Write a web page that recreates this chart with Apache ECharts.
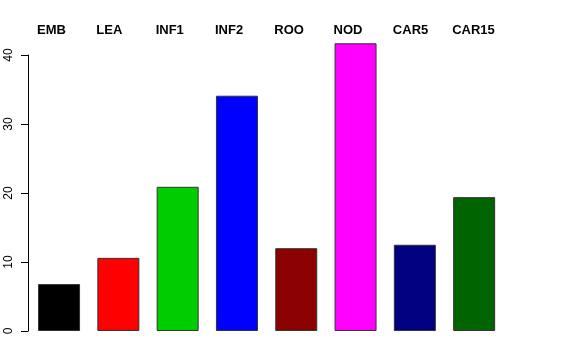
<!DOCTYPE html>
<html><head><meta charset="utf-8">
<script src="https://cdn.jsdelivr.net/npm/echarts@6/dist/echarts.min.js"></script>
<style>html,body{margin:0;padding:0;background:#fff}#c{width:576px;height:360px}</style>
</head><body><div id="c"></div>
<script>
const categories = ['EMB','LEA','INF1','INF2','ROO','NOD','CAR5','CAR15'];
const values = [6.8, 10.6, 20.9, 34.1, 12.0, 41.7, 12.5, 19.4];
const colors = ['#000000','#FF0000','#00CD00','#0000FF','#8B0000','#FF00FF','#000080','#006400'];
const yTicks = [0, 10, 20, 30, 40];

const gridLeft = 29.4, gridWidth = 474.4, barW = 42;
const chart = echarts.init(document.getElementById('c'), null, {renderer:'canvas'});
chart.setOption({
  animation:false,
  backgroundColor:'#fff',
  grid:[
    {left:gridLeft, width:gridWidth, top:55, bottom:29},
    {left:gridLeft - barW/2 - 1, width:gridWidth, top:0, height:24}
  ],
  xAxis:[
    {type:'category', data:categories, gridIndex:0, show:false},
    {type:'category', data:categories, gridIndex:1, position:'bottom',
     axisLine:{show:false}, axisTick:{show:false},
     axisLabel:{margin:0, align:'left', fontFamily:'Liberation Sans, Arial, sans-serif',
       fontWeight:'bold', fontSize:13, color:'#000'}}
  ],
  yAxis:[
    {type:'value', gridIndex:0, min:yTicks[0], max:yTicks[yTicks.length-1], interval:10, offset:1.4,
     axisLine:{show:true, lineStyle:{color:'#000', width:1}},
     axisTick:{show:true, length:7, lineStyle:{color:'#000'}},
     splitLine:{show:false},
     axisLabel:{rotate:90, margin:13, fontFamily:'Liberation Sans, Arial, sans-serif', fontSize:12, color:'#000'}},
    {type:'value', gridIndex:1, show:false}
  ],
  series:[{
    type:'bar', xAxisIndex:0, yAxisIndex:0, clip:false, barWidth:barW,
    data: values.map((v,i)=>({value:v, itemStyle:{color:colors[i]}})),
    itemStyle:{borderColor:'#333', borderWidth:1}
  }]
});
</script></body></html>
